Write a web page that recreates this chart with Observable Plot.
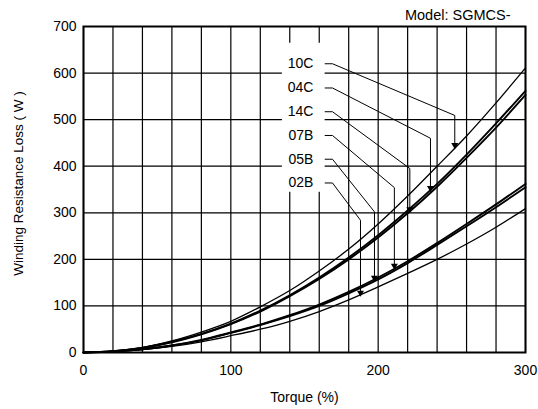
<!DOCTYPE html>
<html><head><meta charset="utf-8">
<script src="https://cdn.jsdelivr.net/npm/d3@7"></script>
<script src="https://cdn.jsdelivr.net/npm/@observablehq/plot@0.6"></script>
<style>html,body{margin:0;padding:0;background:#fff;} svg{display:block;}</style>
</head><body><div id="chart"></div>
<script>
// Torque (%) sample points
const torque = [0, 20, 40, 60, 80, 100, 120, 140, 160, 180, 200, 220, 240, 260, 280, 300];
// Winding resistance loss (W) per model
const s10C = [0, 3, 11, 25, 44, 67, 98, 133, 175, 222, 276, 336, 400, 465, 536, 611];
const s04C = [0, 3, 10, 23, 40, 62, 90, 123, 161, 204, 252, 305, 362, 425, 492, 562];
const s14C = [0, 3, 10, 22, 39, 61, 88, 121, 158, 200, 247, 299, 356, 418, 483, 553];
const s07B = [0, 2, 7, 15, 27, 43, 60, 80, 103, 130, 161, 196, 235, 276, 318, 362];
const s05B = [0, 2, 7, 15, 26, 42, 59, 78, 100, 127, 157, 192, 231, 271, 312, 355];
const s02B = [0, 2, 6, 13, 23, 36, 50, 67, 88, 113, 141, 170, 200, 233, 269, 309];

const seriesNames = ["10C", "04C", "14C", "07B", "05B", "02B"];
const seriesValues = [s10C, s04C, s14C, s07B, s05B, s02B];

// Callout annotations (data coordinates: torque %, loss W)
const labelY = [620, 568, 517, 466, 415, 364];
const labelX = 156;
const leaderX0 = 164;
const leaderX1 = 169;
const bendX = [252, 235.5, 221.5, 211, 197.5, 188];
const bendY = [509, 460, 395, 354, 302, 284];
const tipY = [441, 349, 303, 182, 156, 124];

// White box behind callout labels
const boxX = [135, 164];
const boxY = [344, 664];

const yTicks = [0, 100, 200, 300, 400, 500, 600, 700];
const xTicks = [0, 100, 200, 300];
const xGrid = d3.range(0, 301, 20);
const modelTitle = "Model: SGMCS-";
const xTitle = "Torque (%)";
const yTitle = "Winding Resistance Loss ( W )";

const curveData = seriesNames.flatMap((name, i) =>
  torque.map((t, j) => ({name, t, w: seriesValues[i][j]})));
const thick = new Set(["04C", "14C", "07B", "05B"]);

const leaderData = seriesNames.flatMap((name, i) => [
  {name, x: leaderX0, y: labelY[i]},
  {name, x: leaderX1, y: labelY[i]},
  {name, x: bendX[i], y: bendY[i]},
  {name, x: bendX[i], y: tipY[i]}
]);
const tipData = seriesNames.map((name, i) => ({name, x: bendX[i], y: tipY[i]}));
const labelData = seriesNames.map((name, i) => ({name, x: labelX, y: labelY[i]}));

const chart = Plot.plot({
  width: 538,
  height: 409,
  marginLeft: 83,
  marginRight: 13,
  marginTop: 26,
  marginBottom: 57,
  style: {fontFamily: "'Liberation Sans', Arial, sans-serif", fontSize: "14px", color: "#000", background: "#fff"},
  x: {domain: [0, 300]},
  y: {domain: [0, 700]},
  marks: [
    Plot.gridX(xGrid, {stroke: "#000", strokeOpacity: 1, strokeWidth: 1.2}),
    Plot.gridY(yTicks, {stroke: "#000", strokeOpacity: 1, strokeWidth: 1.2}),
    Plot.rect([0], {x1: () => boxX[0], x2: () => boxX[1], y1: () => boxY[0], y2: () => boxY[1], fill: "#fff"}),
    Plot.line(curveData.filter(d => !thick.has(d.name)), {x: "t", y: "w", z: "name", stroke: "#000", strokeWidth: 1.3, curve: "catmull-rom"}),
    Plot.line(curveData.filter(d => thick.has(d.name)), {x: "t", y: "w", z: "name", stroke: "#000", strokeWidth: 1.9, curve: "catmull-rom"}),
    Plot.line(leaderData, {x: "x", y: "y", z: "name", stroke: "#000", strokeWidth: 1}),
    Plot.dot(tipData, {x: "x", y: "y", symbol: "triangle", rotate: 180, r: 2.6, fill: "#000", stroke: "none", dy: -2}),
    Plot.text(labelData, {x: "x", y: "y", text: "name", textAnchor: "end", lineAnchor: "middle", fontSize: 14}),
    Plot.frame({stroke: "#000", strokeWidth: 2}),
    Plot.axisX(xTicks, {tickSize: 0, tickPadding: 13, label: null, fontSize: 14}),
    Plot.axisY(yTicks, {tickSize: 0, tickPadding: 7, label: null, fontSize: 14}),
    Plot.text([xTitle], {text: d => d, frameAnchor: "bottom", dy: 45, lineAnchor: "middle", fontSize: 14}),
    Plot.text([yTitle], {text: d => d, frameAnchor: "left", dx: -65, dy: -6, rotate: -90, textAnchor: "middle", lineAnchor: "middle", fontSize: 13.5}),
    Plot.text([modelTitle], {text: d => d, frameAnchor: "top-right", dx: -15, dy: -11, lineAnchor: "middle", textAnchor: "end", fontSize: 14.5})
  ]
});
document.getElementById("chart").append(chart);
</script>
</body></html>
